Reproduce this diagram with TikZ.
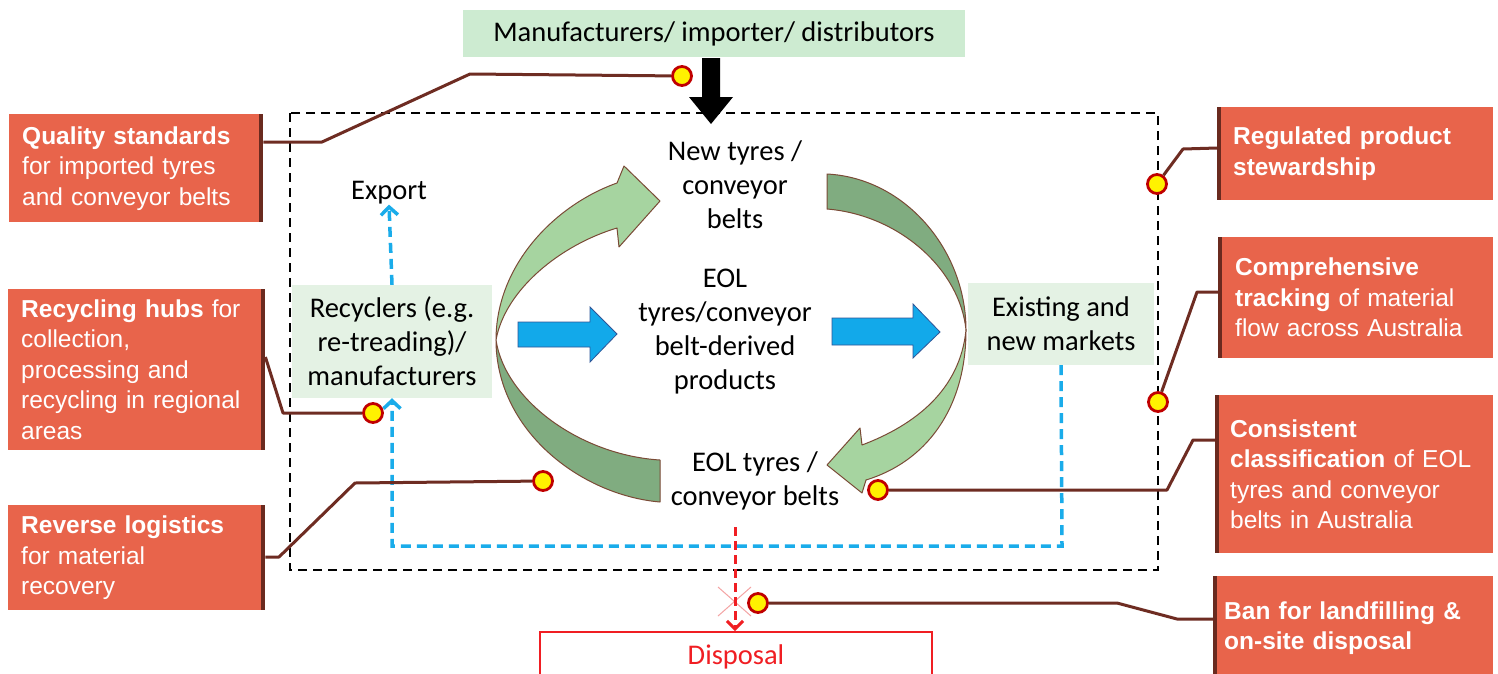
\documentclass[tikz,border=0pt]{standalone}
\usepackage{fontspec}
\setmainfont{Carlito}
\newfontfamily\arialf{Liberation Sans}
\usetikzlibrary{arrows.meta}
\definecolor{redboxc}{HTML}{E8644B}
\definecolor{barc}{HTML}{6A2A1F}
\definecolor{linec}{HTML}{6E2C22}
\definecolor{dotred}{HTML}{C00000}
\definecolor{lgreen}{HTML}{A6D4A0}
\definecolor{dgreen}{HTML}{80AC80}
\definecolor{gline}{HTML}{7A4A36}
\definecolor{mboxc}{HTML}{CDEBD1}
\definecolor{pboxc}{HTML}{E4F2E4}
\definecolor{bluec}{HTML}{12A9EA}
\definecolor{bluedk}{HTML}{2F5597}
\definecolor{bdash}{HTML}{1AACEA}
\definecolor{dispred}{HTML}{F01E23}
\definecolor{pinkx}{HTML}{F4A3A3}
\begin{document}
\begin{tikzpicture}[x=1pt,y=-1pt,
  every node/.style={inner sep=0pt},
  diag/.style={font=\fontsize{28.5}{34}\selectfont, align=center},
  rbox/.style={fill=redboxc, text=white, align=left, anchor=north west,
    font=\arialf\fontsize{24.5}{30.5}\selectfont},
  bar/.style={barc, line width=4pt},
  conn/.style={linec, line width=3pt, line join=round},
  dot/.style={circle, fill=yellow, draw=dotred, line width=2.8pt, minimum size=19pt},
  bluedash/.style={bdash, line width=3.5pt, dash pattern=on 10pt off 6pt,
    -{Straight Barb[length=8pt,width=17pt]}},
  reddash/.style={dispred, line width=3pt, dash pattern=on 9pt off 5pt,
    -{Straight Barb[length=8pt,width=16pt]}},
  garrow/.style={draw=gline, line width=1pt, line join=round},
  barrow/.style={fill=bluec, draw=bluedk, line width=0.8pt, line join=miter}
]
\clip (0,0) rectangle (1498,673);
\fill[white] (0,0) rectangle (1498,673);

% dashed system boundary
\draw[black, line width=2.6pt, dash pattern=on 9pt off 6pt] (290,113) rectangle (1158,570);

% top box and black arrow
\node[diag, fill=mboxc, minimum width=502, minimum height=47] (manu) at (714,33.5) {Manufacturers/ importer/ distributors};
\fill[black] (702,58) -- (720,58) -- (720,97) -- (733,97) -- (711,124) -- (689,97) -- (702,97) -- cycle;

% light green boxes
\node[diag, fill=pboxc, minimum width=200, minimum height=113] (recy) at (392,341.5) {Recyclers (e.g.\\re-treading)/\\manufacturers};
\node[diag, fill=pboxc, minimum width=186, minimum height=82] (exist) at (1061,324) {Existing and\\new markets};

% text nodes
\node[diag] (newt) at (735,185) {New tyres /\\conveyor\\belts};
\node[diag] (eolp) at (725,332) {EOL\\tyres/conveyor\\belt-derived\\products};
\node[diag] (eolt) at (755,481) {EOL tyres /\\conveyor belts};
\node[diag] (export) at (389,193) {Export};

% curved green arrows (left)
\filldraw[garrow, fill=dgreen] (496,340) .. controls (496,430) and (580,495) .. (660,502) -- (660,460) .. controls (580,455) and (505,400) .. (496,340) -- cycle;
\filldraw[garrow, fill=lgreen] (496,340) .. controls (496,265) and (555,205) .. (617,183) -- (624,166) -- (660,201) -- (619,247) -- (617,228) .. controls (560,245) and (505,290) .. (496,340) -- cycle;
% curved green arrows (right)
\filldraw[garrow, fill=dgreen] (827,174) .. controls (905,178) and (966,250) .. (966,330) .. controls (960,270) and (900,215) .. (827,209) -- cycle;
\filldraw[garrow, fill=lgreen] (966,330) .. controls (966,410) and (925,462) .. (866,480) -- (862,493) -- (827,465) -- (860,428) -- (862,445) .. controls (915,425) and (960,390) .. (966,330) -- cycle;

% blue block arrows
\filldraw[barrow] (518,322) -- (590,322) -- (590,307) -- (617,334) -- (590,362) -- (590,347) -- (518,347) -- cycle;
\filldraw[barrow] (832,318) -- (913,318) -- (913,304) -- (940,332) -- (913,358) -- (913,345) -- (832,345) -- cycle;

% blue dashed flows
\draw[bluedash] (recy.north) -- (export.south);
\draw[bluedash] (exist.south) -- (1062,546) -- (392,546) -- (recy.south);

% disposal
\node[diag, draw=dispred, line width=1.5pt, minimum width=392, minimum height=50, anchor=north, text=dispred] (disp) at (736,631) {Disposal};
\draw[pinkx, line width=1pt] (718,587) -- (751,616) (718,616) -- (751,587);
\coordinate (rstart) at (735,527);
\draw[reddash] (rstart) -- (disp.north -| rstart);

% red policy boxes
\node[rbox, minimum width=254, minimum height=108, text width=228, inner xsep=13pt] (qs) at (9,114) {\textbf{Quality standards}\\for imported tyres\\and conveyor belts};
\node[rbox, minimum width=257, minimum height=161, text width=231, inner xsep=13pt] (rh) at (8,289) {\textbf{Recycling hubs} for\\collection,\\processing and\\recycling in regional\\areas};
\node[rbox, minimum width=257, minimum height=105, text width=231, inner xsep=13pt] (rl) at (8,505) {\textbf{Reverse logistics}\\for material\\recovery};
\node[rbox, minimum width=276, minimum height=93, text width=244, inner xsep=16pt] (rp) at (1217,107) {\textbf{Regulated product}\\\textbf{stewardship}};
\node[rbox, minimum width=275, minimum height=121, text width=241, inner xsep=17pt] (ct) at (1218,237) {\textbf{Comprehensive}\\\textbf{tracking} of material\\flow across Australia};
\node[rbox, minimum width=278, minimum height=158, text width=248, inner xsep=15pt] (cc) at (1215,395) {\textbf{Consistent}\\\textbf{classification} of EOL\\tyres and conveyor\\belts in Australia};
\node[rbox, minimum width=280, minimum height=104, text width=258, inner xsep=11pt] (ban) at (1213,576) {\textbf{Ban for landfilling \&}\\\textbf{on-site disposal}};

\draw[bar] ([xshift=-2pt]qs.north east) -- ([xshift=-2pt]qs.south east);
\draw[bar] ([xshift=-2pt]rh.north east) -- ([xshift=-2pt]rh.south east);
\draw[bar] ([xshift=-2pt]rl.north east) -- ([xshift=-2pt]rl.south east);
\draw[bar] ([xshift=2pt]rp.north west) -- ([xshift=2pt]rp.south west);
\draw[bar] ([xshift=2pt]ct.north west) -- ([xshift=2pt]ct.south west);
\draw[bar] ([xshift=2pt]cc.north west) -- ([xshift=2pt]cc.south west);
\draw[bar] ([xshift=2pt]ban.north west) -- ([xshift=2pt]ban.south west);

% dots
\node[dot] (dq) at (682,76) {};
\node[dot] (dr) at (373,413) {};
\node[dot] (dl) at (543,481) {};
\node[dot] (dreg) at (1157,184) {};
\node[dot] (dcomp) at (1158,402) {};
\node[dot] (dcons) at (878,490) {};
\node[dot] (dban) at (758,603) {};

% connectors
\draw[conn] (qs.east |- 0,142) -- (322,142) -- (470,74) -- (dq);
\draw[conn] (rh.east |- 0,357) -- (283,413) -- (dr);
\draw[conn] (rl.east |- 0,557) -- (279,557) -- (355,483) -- (dl);
\draw[conn] (dreg) -- (1183,149) -- (rp.west |- 0,148);
\draw[conn] (dcomp) -- (1197,292) -- (ct.west |- 0,292);
\draw[conn] (dcons) -- (1167,490) -- (1193,440) -- (cc.west |- 0,440);
\draw[conn] (dban) -- (1117,603) -- (1177,619) -- (ban.west |- 0,619);
\end{tikzpicture}
\end{document}
